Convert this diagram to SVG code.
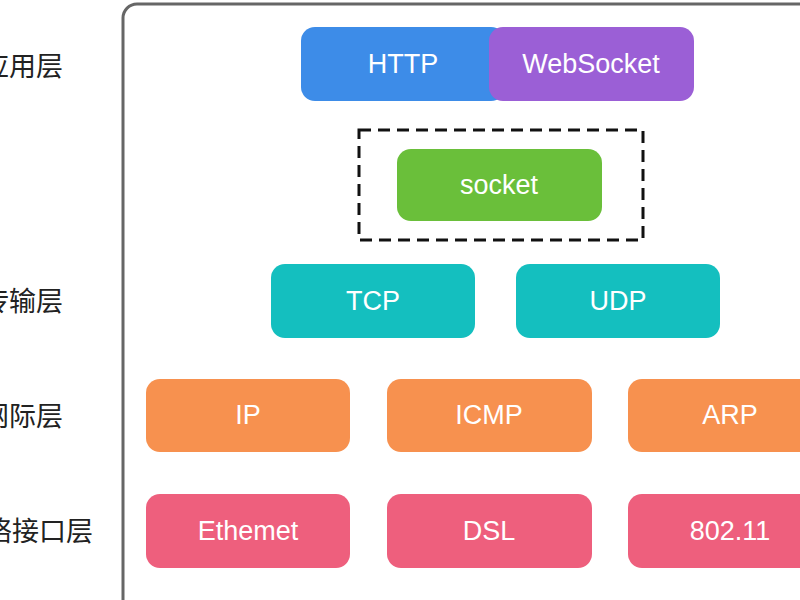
<svg xmlns="http://www.w3.org/2000/svg" width="800" height="600" viewBox="0 0 800 600">
<style>
.lbl{font-family:"Noto Sans CJK SC","Noto Sans",sans-serif;font-size:27px;fill:#222;text-anchor:end}
.t{font-family:"Liberation Sans","Noto Sans",sans-serif;font-size:27px;fill:#fff;text-anchor:middle;dominant-baseline:central}
.b{rx:14}
</style>
<rect width="800" height="600" fill="#fff"/>
<text class="lbl" x="63" y="76">应用层</text>
<text class="lbl" x="63" y="311">传输层</text>
<text class="lbl" x="63" y="426">网际层</text>
<text class="lbl" x="93" y="541">网络接口层</text>
<rect x="123" y="4" width="700" height="610" rx="14" fill="none" stroke="#666" stroke-width="3"/>
<g id="connectors"/>
<g id="http"><rect class="b" x="301" y="27" width="204" height="74" fill="#3d8ce8"/><text class="t" x="403" y="64">HTTP</text></g>
<g id="websocket"><rect class="b" x="489" y="27" width="205" height="74" fill="#9b5fd6"/><text class="t" x="591" y="64">WebSocket</text></g>
<g id="socketframe"><rect x="359" y="130" width="284" height="110" fill="none" stroke="#111" stroke-width="3" stroke-dasharray="12,7"/></g>
<g id="socket"><rect class="b" x="397" y="149" width="205" height="72" fill="#6abf3a"/><text class="t" x="499" y="185">socket</text></g>
<g id="tcp"><rect class="b" x="271" y="264" width="204" height="74" fill="#14bfbf"/><text class="t" x="373" y="301">TCP</text></g>
<g id="udp"><rect class="b" x="516" y="264" width="204" height="74" fill="#14bfbf"/><text class="t" x="618" y="301">UDP</text></g>
<g id="ip"><rect class="b" x="146" y="379" width="204" height="73" fill="#f7914f"/><text class="t" x="248" y="415">IP</text></g>
<g id="icmp"><rect class="b" x="387" y="379" width="205" height="73" fill="#f7914f"/><text class="t" x="489" y="415">ICMP</text></g>
<g id="arp"><rect class="b" x="628" y="379" width="205" height="73" fill="#f7914f"/><text class="t" x="730" y="415">ARP</text></g>
<g id="ethemet"><rect class="b" x="146" y="494" width="204" height="74" fill="#ee5f7d"/><text class="t" x="248" y="531">Ethemet</text></g>
<g id="dsl"><rect class="b" x="387" y="494" width="205" height="74" fill="#ee5f7d"/><text class="t" x="489" y="531">DSL</text></g>
<g id="wifi"><rect class="b" x="628" y="494" width="205" height="74" fill="#ee5f7d"/><text class="t" x="730" y="531">802.11</text></g>
</svg>
